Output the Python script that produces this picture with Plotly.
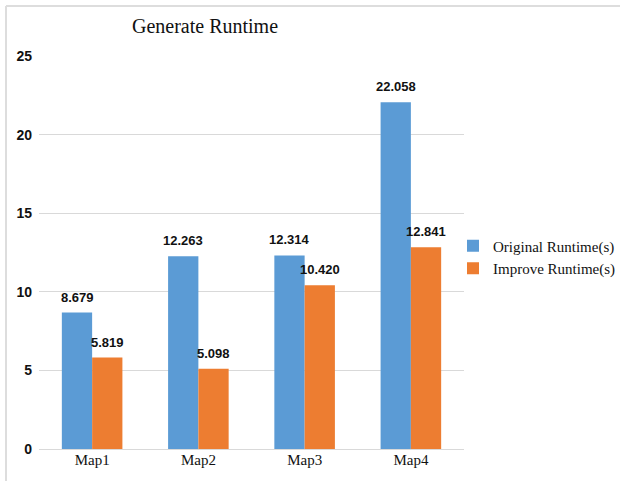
import plotly.graph_objects as go

categories = ["Map1", "Map2", "Map3", "Map4"]
original_runtime = [8.679, 12.263, 12.314, 22.058]
improve_runtime = [5.819, 5.098, 10.420, 12.841]
series_names = ["Original Runtime(s)", "Improve Runtime(s)"]
y_ticks = [0, 5, 10, 15, 20, 25]

BLUE = "#5B9BD5"
ORANGE = "#ED7D31"

fig = go.Figure()
fig.add_trace(go.Bar(x=categories, y=original_runtime, name=series_names[0],
                     marker=dict(color=BLUE, line=dict(width=0))))
fig.add_trace(go.Bar(x=categories, y=improve_runtime, name=series_names[1],
                     marker=dict(color=ORANGE, line=dict(width=0))))

annotations = []
for vals, shift in ((original_runtime, -15), (improve_runtime, 15)):
    for c, v in zip(categories, vals):
        annotations.append(dict(
            x=c, y=v, xref="x", yref="y", text=f"{v:.3f}", showarrow=False,
            xshift=shift, yshift=6, yanchor="bottom", xanchor="center",
            font=dict(family="Liberation Sans, Arial", size=13, color="#111111", weight="bold"),
        ))

L, R, T, B = 39, 156, 56, 32
W, H = 620, 481
pw, ph = W - L - R, H - T - B

def px_x(p):
    return (p - L) / pw

def px_y(p):
    return (H - B - p) / ph

shapes = [
    dict(type="line", xref="paper", yref="paper", x0=px_x(6), x1=px_x(620), y0=px_y(6), y1=px_y(6),
         line=dict(color="#dddddd", width=2)),
    dict(type="line", xref="paper", yref="paper", x0=px_x(6), x1=px_x(6), y0=px_y(6), y1=px_y(481),
         line=dict(color="#dddddd", width=2)),
]

fig.update_layout(
    width=W, height=H,
    margin=dict(l=L, r=R, t=T, b=B, autoexpand=False),
    paper_bgcolor="white", plot_bgcolor="white",
    barmode="group", bargap=0.43, bargroupgap=0,
    title=dict(text="Generate Runtime", x=205 / W, xanchor="center", xref="container",
               y=1 - 26 / H, yanchor="middle", yref="container",
               font=dict(family="Liberation Serif, Times New Roman", size=20, color="#111111")),
    legend=dict(x=px_x(453), xanchor="left", y=px_y(257), yanchor="middle",
                font=dict(family="Liberation Serif, Times New Roman", size=15, color="#111111"),
                bgcolor="rgba(0,0,0,0)", borderwidth=0, tracegroupgap=0),
    annotations=annotations,
    shapes=shapes,
    xaxis=dict(showgrid=False, showline=False, ticks="",
               tickfont=dict(family="Liberation Serif, Times New Roman", size=15, color="#111111")),
    yaxis=dict(range=[0, 25], tickvals=y_ticks, showgrid=True, gridcolor="#d9d9d9", gridwidth=1,
               zeroline=True, zerolinecolor="#d9d9d9", zerolinewidth=1, showline=False, ticks="",
               ticklabelstandoff=6,
               tickfont=dict(family="Liberation Sans, Arial", size=14, color="#111111", weight="bold")),
)

fig.write_html("out.html")
